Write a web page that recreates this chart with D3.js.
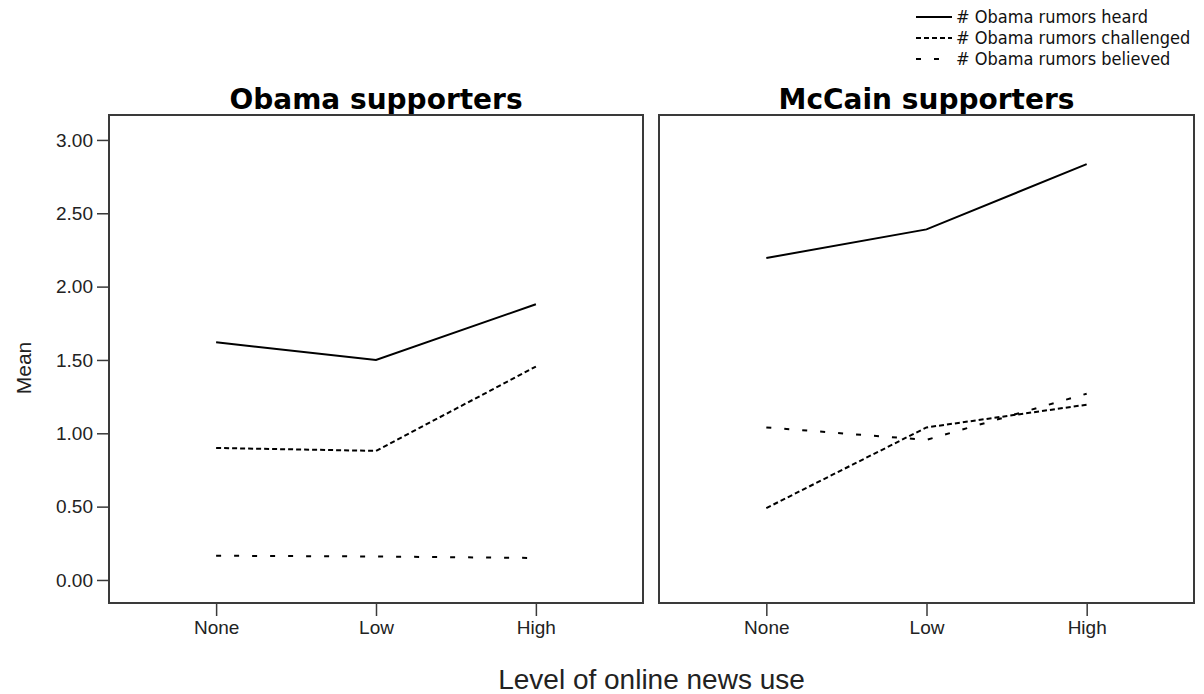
<!DOCTYPE html>
<html>
<head>
<meta charset="utf-8">
<script src="https://cdn.jsdelivr.net/npm/d3@7"></script>
<style>
  html, body { margin: 0; padding: 0; background: #fff; }
  svg { display: block; }
</style>
</head>
<body>
<svg id="chart" width="1204" height="694"></svg>
<script>
// Mean number of Obama rumors, by level of online news use
const categories = ["None", "Low", "High"];
const panels = ["Obama supporters", "McCain supporters"];
const seriesNames = ["# Obama rumors heard", "# Obama rumors challenged", "# Obama rumors believed"];

const obamaHeard      = [1.62, 1.50, 1.88];
const obamaChallenged = [0.90, 0.88, 1.455];
const obamaBelieved   = [0.165, 0.16, 0.15];

const mccainHeard      = [2.195, 2.39, 2.835];
const mccainChallenged = [0.49, 1.04, 1.195];
const mccainBelieved   = [1.04, 0.955, 1.27];

const yTicks = [0, 0.5, 1, 1.5, 2, 2.5, 3];

const panelData = [
  [obamaHeard, obamaChallenged, obamaBelieved],
  [mccainHeard, mccainChallenged, mccainBelieved]
];

const dashStyles = [null, "5,3", "5,13"];
const axisColor = "#3a3a3a";

const svg = d3.select("#chart");
svg.append("rect").attr("width", 1204).attr("height", 694).attr("fill", "#fff");

// shared vertical scale
const plotTop = 115, plotBottom = 603;
const y = d3.scaleLinear().domain([-0.157, 3.17]).range([plotBottom, plotTop]);

const panelX = [[109, 643], [659, 1194]];

const line = (x) => d3.line()
  .x((d, i) => x(categories[i]))
  .y(d => y(d));

panelX.forEach(([x0, x1], p) => {
  const x = d3.scalePoint().domain(categories).range([x0, x1]).padding(0.67);
  const g = svg.append("g");

  // panel title
  g.append("text")
    .attr("x", (x0 + x1) / 2)
    .attr("y", 109)
    .attr("text-anchor", "middle")
    .attr("font-family", "'DejaVu Sans', sans-serif")
    .attr("font-weight", "bold")
    .attr("font-size", 28)
    .attr("fill", "#000")
    .text(panels[p]);

  // series lines
  panelData[p].forEach((vals, s) => {
    g.append("path")
      .datum(vals)
      .attr("d", line(x))
      .attr("fill", "none")
      .attr("stroke", "#000")
      .attr("stroke-width", 2)
      .attr("stroke-dasharray", dashStyles[s]);
  });

  // bottom axis with category ticks
  const xAxis = d3.axisBottom(x).tickSize(13).tickPadding(5);
  const xa = g.append("g").attr("transform", `translate(0,${plotBottom})`).call(xAxis);
  xa.select(".domain").remove();
  xa.selectAll(".tick line").attr("stroke", axisColor).attr("stroke-width", 1.5);
  xa.selectAll(".tick text")
    .attr("font-family", "'Liberation Sans', Arial, sans-serif")
    .attr("font-size", 19)
    .attr("fill", "#222");

  // left axis only on the first panel
  if (p === 0) {
    const yAxis = d3.axisLeft(y).tickValues(yTicks).tickFormat(d3.format(".2f")).tickSize(12).tickPadding(4);
    const ya = g.append("g").attr("transform", `translate(${x0},0)`).call(yAxis);
    ya.select(".domain").remove();
    ya.selectAll(".tick line").attr("stroke", axisColor).attr("stroke-width", 1.5);
    ya.selectAll(".tick text")
      .attr("font-family", "'Liberation Sans', Arial, sans-serif")
      .attr("font-size", 19)
      .attr("fill", "#222");
  }

  // panel frame
  g.append("rect")
    .attr("x", x0).attr("y", plotTop)
    .attr("width", x1 - x0).attr("height", plotBottom - plotTop)
    .attr("fill", "none")
    .attr("stroke", axisColor)
    .attr("stroke-width", 2);
});

// axis titles
svg.append("text")
  .attr("x", (panelX[0][0] + panelX[1][1]) / 2)
  .attr("y", 689)
  .attr("text-anchor", "middle")
  .attr("font-family", "'Liberation Sans', Arial, sans-serif")
  .attr("font-size", 28)
  .attr("fill", "#222")
  .text("Level of online news use");

svg.append("text")
  .attr("transform", `translate(31,368) rotate(-90)`)
  .attr("text-anchor", "middle")
  .attr("font-family", "'Liberation Sans', Arial, sans-serif")
  .attr("font-size", 21)
  .attr("fill", "#222")
  .text("Mean");

// legend
const legend = svg.append("g");
seriesNames.forEach((name, i) => {
  const ly = 17 + i * 21;
  legend.append("line")
    .attr("x1", 916).attr("x2", 952)
    .attr("y1", ly).attr("y2", ly)
    .attr("stroke", "#000")
    .attr("stroke-width", 2)
    .attr("stroke-dasharray", dashStyles[i]);
  legend.append("text")
    .attr("x", 956)
    .attr("y", ly)
    .attr("dy", "0.35em")
    .attr("font-family", "'DejaVu Sans Condensed', 'DejaVu Sans', sans-serif")
    .attr("font-size", 18)
    .attr("fill", "#111")
    .text(name);
});
</script>
</body>
</html>
